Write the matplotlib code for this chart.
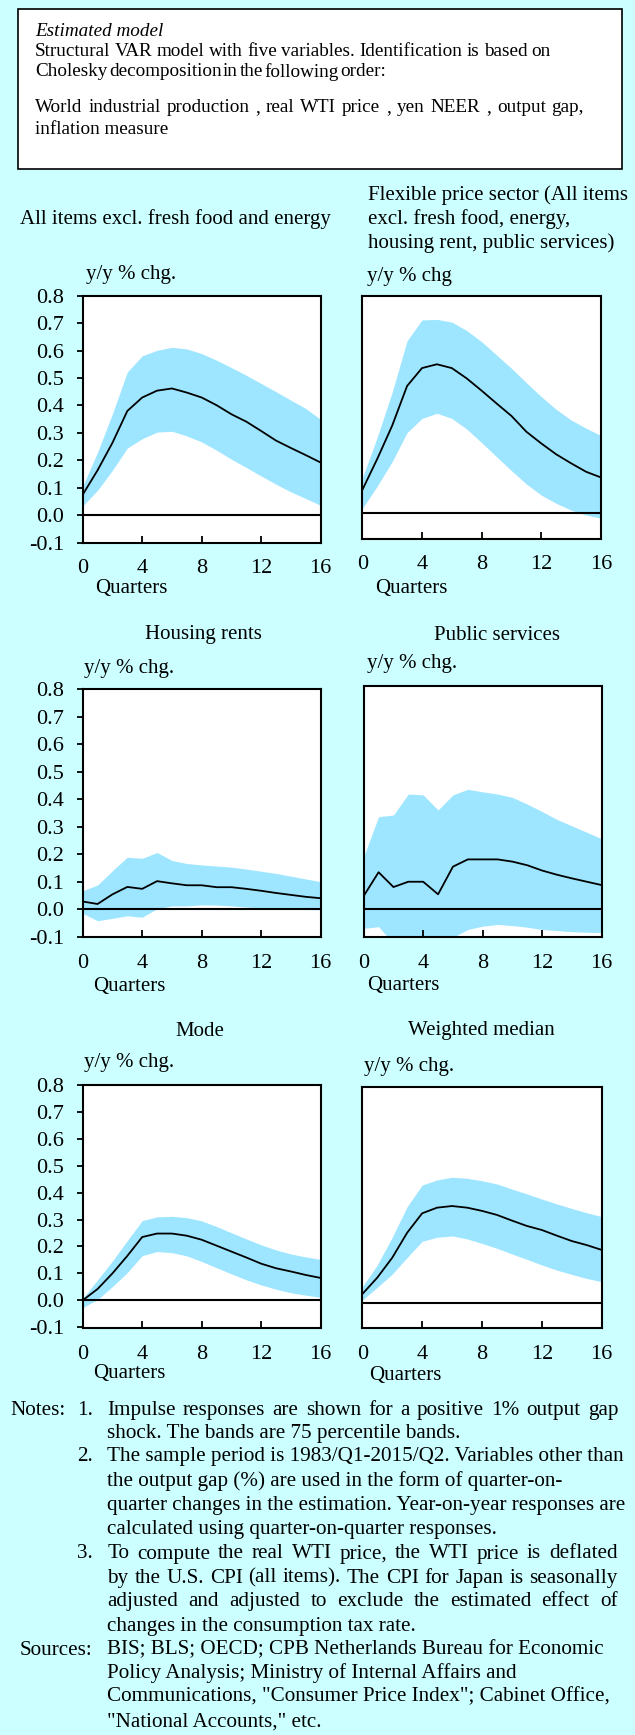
import matplotlib
matplotlib.use("Agg")
import matplotlib.pyplot as plt
from matplotlib.patches import Rectangle
import numpy as np

plt.rcParams['font.family'] = ['Liberation Serif', 'DejaVu Serif']

W, H = 635, 1735
BG = '#CCFFFF'
BAND = '#9EE6FF'
FS = 15
TFS = 16
NFS = 15.2
BFS = 13.8

quarters = list(range(17))

# All items excl. fresh food and energy
core_mid = [0.075, 0.164, 0.264, 0.380, 0.429, 0.454, 0.462, 0.447, 0.429, 0.401,
            0.368, 0.341, 0.307, 0.272, 0.245, 0.219, 0.192]
core_hi = [0.106, 0.230, 0.370, 0.522, 0.581, 0.601, 0.612, 0.606, 0.589, 0.565,
           0.538, 0.510, 0.480, 0.450, 0.419, 0.389, 0.349]
core_lo = [0.034, 0.091, 0.164, 0.245, 0.279, 0.303, 0.306, 0.289, 0.267, 0.237,
           0.204, 0.174, 0.143, 0.113, 0.085, 0.061, 0.036]

# Flexible price sector
flex_mid = [0.086, 0.200, 0.322, 0.468, 0.534, 0.548, 0.534, 0.496, 0.451, 0.404,
            0.358, 0.300, 0.257, 0.217, 0.184, 0.153, 0.132]
flex_hi = [0.130, 0.280, 0.445, 0.634, 0.711, 0.713, 0.703, 0.672, 0.631, 0.582,
           0.533, 0.480, 0.429, 0.382, 0.343, 0.313, 0.286]
flex_lo = [0.018, 0.100, 0.190, 0.297, 0.349, 0.368, 0.349, 0.310, 0.260, 0.208,
           0.157, 0.108, 0.067, 0.037, 0.012, -0.006, -0.018]

# Housing rents
rent_mid = [0.028, 0.019, 0.054, 0.081, 0.074, 0.102, 0.094, 0.087, 0.087, 0.080,
            0.080, 0.074, 0.067, 0.059, 0.052, 0.045, 0.040]
rent_hi = [0.067, 0.088, 0.140, 0.189, 0.185, 0.206, 0.177, 0.166, 0.161, 0.157,
           0.153, 0.146, 0.138, 0.130, 0.120, 0.110, 0.100]
rent_lo = [-0.015, -0.042, -0.033, -0.024, -0.029, 0.002, 0.012, 0.012, 0.016, 0.015,
           0.012, 0.008, 0.005, 0.002, 0.000, -0.001, -0.002]

# Public services
pub_mid = [0.048, 0.133, 0.080, 0.099, 0.099, 0.054, 0.153, 0.179, 0.179, 0.179,
           0.171, 0.158, 0.139, 0.124, 0.111, 0.099, 0.087]
pub_hi = [0.189, 0.332, 0.338, 0.413, 0.410, 0.356, 0.410, 0.430, 0.421, 0.413,
          0.401, 0.377, 0.350, 0.322, 0.299, 0.276, 0.253]
pub_lo = [-0.068, -0.062, -0.122, -0.134, -0.134, -0.130, -0.100, -0.072, -0.060, -0.054,
          -0.058, -0.064, -0.072, -0.076, -0.080, -0.082, -0.083]

# Mode
mode_mid = [0.000, 0.042, 0.100, 0.165, 0.235, 0.248, 0.248, 0.240, 0.225, 0.203,
            0.181, 0.159, 0.136, 0.119, 0.107, 0.094, 0.083]
mode_hi = [0.007, 0.076, 0.146, 0.222, 0.296, 0.310, 0.312, 0.307, 0.295, 0.274,
           0.251, 0.228, 0.206, 0.187, 0.172, 0.161, 0.152]
mode_lo = [-0.027, 0.003, 0.051, 0.103, 0.166, 0.181, 0.177, 0.165, 0.144, 0.121,
           0.098, 0.076, 0.057, 0.041, 0.028, 0.019, 0.011]

# Weighted median
wmed_mid = [0.032, 0.093, 0.167, 0.260, 0.332, 0.353, 0.359, 0.353, 0.341, 0.326,
            0.305, 0.285, 0.270, 0.249, 0.229, 0.214, 0.196]
wmed_hi = [0.059, 0.140, 0.243, 0.357, 0.437, 0.456, 0.466, 0.462, 0.453, 0.441,
           0.422, 0.404, 0.385, 0.367, 0.350, 0.334, 0.320]
wmed_lo = [0.010, 0.057, 0.106, 0.168, 0.228, 0.243, 0.248, 0.237, 0.220, 0.202,
           0.181, 0.161, 0.140, 0.121, 0.105, 0.090, 0.078]

xticks = [0, 4, 8, 12, 16]
yticks = [-0.1, 0.0, 0.1, 0.2, 0.3, 0.4, 0.5, 0.6, 0.7, 0.8]


def fx(px):
    return px / W


def fy(py):
    return 1 - py / H


fig = plt.figure(figsize=(W / 100, H / 100), dpi=100, facecolor=BG)
renderer = fig.canvas.get_renderer()


def spread_line(x, y, s, size, right=None, **kw):
    # left aligned line; with right given, word gaps are set so it ends there
    if right is None:
        fig.text(fx(x), fy(y), s, fontsize=size, va='center', **kw)
        return
    words = s.split()
    widths = []
    for w in words:
        tmp = fig.text(0, 0, w, fontsize=size, **kw)
        widths.append(tmp.get_window_extent(renderer).width)
        tmp.remove()
    gap = max((right - x - sum(widths)) / (len(words) - 1), 1.5)
    cx = x
    for w, wd in zip(words, widths):
        fig.text(fx(cx), fy(y), w, fontsize=size, va='center', **kw)
        cx += wd + gap


# model box at the top
fig.patches.append(Rectangle((fx(18.3), fy(169.3)), fx(621.7) - fx(18.3), (169.3 - 9.3) / H,
                             transform=fig.transFigure, facecolor='white',
                             edgecolor='black', linewidth=1.2))
fig.text(fx(35), fy(31.7), "Estimated model", fontsize=BFS, style='italic', va='center')
box_lines = [
    (51.7, "Structural VAR model with five variables. Identification is based on", 551),
    (71.7, "Cholesky decomposition in the following order:", 360),
    (107.3, "World industrial production , real WTI price , yen NEER , output gap,", 584),
    (130.0, "inflation measure", None),
]
for yy, s, right in box_lines:
    spread_line(35, yy, s, BFS, right)

# panels: (box left, right, top, bottom), ylim bottom, data, left panel?
panels = [
    ((82.7, 320.7, 295.7, 542.7), -0.100, core_mid, core_hi, core_lo, True),
    ((362.3, 601.0, 295.7, 538.7), -0.093, flex_mid, flex_hi, flex_lo, False),
    ((82.7, 320.7, 689.0, 937.3), -0.102, rent_mid, rent_hi, rent_lo, True),
    ((363.7, 601.7, 686.0, 937.3), -0.100, pub_mid, pub_hi, pub_lo, False),
    ((82.7, 320.7, 1085.0, 1328.0), -0.103, mode_mid, mode_hi, mode_lo, True),
    ((362.3, 601.7, 1087.3, 1328.0), -0.094, wmed_mid, wmed_hi, wmed_lo, False),
]

for (l, r, t, b), ybot, mid, hi, lo, is_left in panels:
    ax = fig.add_axes([fx(l), fy(b), (r - l) / W, (b - t) / H])
    ax.set_facecolor('white')
    ax.fill_between(quarters, lo, hi, color=BAND, linewidth=0)
    ax.plot(quarters, mid, color='black', linewidth=1.3)
    ax.axhline(0, color='black', linewidth=1.5)
    ax.set_xlim(0, 16)
    ax.set_ylim(ybot, 0.8)
    ax.set_xticks(xticks)
    ax.tick_params(axis='x', direction='in', length=5, width=1.3, pad=12, labelsize=TFS)
    if is_left:
        ax.set_yticks(yticks)
        ax.set_yticklabels([f"{v:.1f}" for v in yticks])
        ax.tick_params(axis='y', direction='out', length=4.5, width=1.3, pad=9, labelsize=TFS)
    else:
        ax.set_yticks([])
    for sp in ax.spines.values():
        sp.set_linewidth(1.5)

# panel titles
fig.text(fx(20), fy(219.3), "All items excl. fresh food and energy", fontsize=FS, va='center')
for yy, s in [(195, "Flexible price sector (All items"),
              (219.3, "excl. fresh food, energy,"),
              (243.3, "housing rent, public services)")]:
    fig.text(fx(368), fy(yy), s, fontsize=FS, va='center')
fig.text(fx(203), fy(635), "Housing rents", fontsize=FS, ha='center', va='center')
fig.text(fx(497), fy(635), "Public services", fontsize=FS, ha='center', va='center')
fig.text(fx(200), fy(1031), "Mode", fontsize=FS, ha='center', va='center')
fig.text(fx(481), fy(1031), "Weighted median", fontsize=FS, ha='center', va='center')

# unit labels
for xx, yy, s in [(86, 275, "y/y % chg."), (367, 277, "y/y % chg"),
                  (84, 668, "y/y % chg."), (367, 663, "y/y % chg."),
                  (84, 1062, "y/y % chg."), (364, 1066, "y/y % chg.")]:
    fig.text(fx(xx), fy(yy), s, fontsize=FS, va='center')

# x axis titles
for xx, yy in [(95, 588), (375, 588), (93, 986), (367, 985), (93, 1373), (369, 1375)]:
    fig.text(fx(xx), fy(yy), "Quarters", fontsize=FS, va='center')

# notes
fig.text(fx(10), fy(1410.7), "Notes:", fontsize=NFS, va='center')
for yy, s in [(1410.7, "1."), (1456.7, "2."), (1554, "3.")]:
    fig.text(fx(77), fy(yy), s, fontsize=NFS, va='center')
fig.text(fx(19.4), fy(1650), "Sources:", fontsize=NFS, va='center')

TX = 107.3
notes = [
    (1410.7, "Impulse responses are shown for a positive 1% output gap", 618.5),
    (1433.0, "shock. The bands are 75 percentile bands.", None),
    (1456.7, "The sample period is 1983/Q1-2015/Q2. Variables other than", None),
    (1480.7, "the output gap (%) are used in the form of quarter-on-", None),
    (1505.0, "quarter changes in the estimation. Year-on-year responses are", None),
    (1529.0, "calculated using quarter-on-quarter responses.", None),
    (1554.0, "To compute the real WTI price, the WTI price is deflated", 617.6),
    (1578.0, "by the U.S. CPI (all items). The CPI for Japan is seasonally", 617.6),
    (1601.7, "adjusted and adjusted to exclude the estimated effect of", 617.6),
    (1626.0, "changes in the consumption tax rate.", None),
    (1650.0, "BIS; BLS; OECD; CPB Netherlands Bureau for Economic", None),
    (1673.0, "Policy Analysis; Ministry of Internal Affairs and", None),
    (1697.0, "Communications, \"Consumer Price Index\"; Cabinet Office,", None),
    (1721.7, "\"National Accounts,\" etc.", None),
]
for yy, s, right in notes:
    spread_line(TX, yy, s, NFS, right)

fig.savefig("out.png", dpi=100, facecolor=BG)
